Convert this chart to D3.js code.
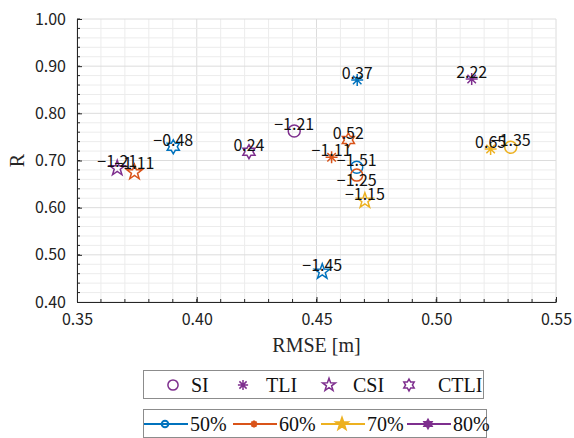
<!DOCTYPE html>
<html>
<head>
<meta charset="utf-8">
<script src="https://cdn.jsdelivr.net/npm/d3@7"></script>
<style>
  body { margin: 0; background: #fff; }
  svg { display: block; }
</style>
</head>
<body>
<svg id="chart" width="574" height="438"></svg>
<script>
// rows: SI, TLI, CSI, CTLI ; columns: 50%, 60%, 70%, 80%
const indices = ["SI", "TLI", "CSI", "CTLI"];
const levels = ["50%", "60%", "70%", "80%"];
const rmseVals = [
    [0.4668, 0.4668, 0.5311, 0.4407],
    [0.4670, 0.4563, 0.5227, 0.5148],
    [0.4524, 0.3740, 0.4702, 0.3668],
    [0.3902, 0.4633, null, 0.4218]
];
const rVals = [
    [0.6856, 0.6690, 0.7280, 0.7625],
    [0.8707, 0.7068, 0.7244, 0.8727],
    [0.4643, 0.6750, 0.6148, 0.6835],
    [0.7290, 0.7435, null, 0.7187]
];
const pointLabels = [
    ["\u22121.51", "\u22121.25", "\u22121.35", "\u22121.21"],
    ["0.37", "\u22121.11", "0.65", "2.22"],
    ["\u22121.45", "\u22121.11", "\u22121.15", "\u22121.21"],
    ["\u22120.48", "0.52", null, "0.24"]
];
// vertical nudge of a few labels (px), as placed in the original figure
const labelNudge = [
    [0, 12, 0, 0],
    [0, 0, 0, 0],
    [0, -2, 0, 0],
    [0, 0, 0, 0]
];
const xTicks = [0.35, 0.40, 0.45, 0.50, 0.55];
const yTicks = [0.40, 0.50, 0.60, 0.70, 0.80, 0.90, 1.00];
const levelColors = ["#0072BD", "#D95319", "#EDB120", "#7E2F8E"];

const svg = d3.select("#chart");
const x = d3.scaleLinear().domain([0.35, 0.55]).range([77, 556]);
const y = d3.scaleLinear().domain([0.40, 1.00]).range([302, 19]);

const tickFont = "'Noto Sans CJK JP', 'Noto Sans', sans-serif";
const serif = "'Liberation Serif', 'DejaVu Serif', serif";

// marker path builders
function starPath(n, rOut, rIn) {
    var pts = [];
    for (var i = 0; i < 2 * n; i++) {
        var a = -Math.PI / 2 + i * Math.PI / n;
        var r = i % 2 === 0 ? rOut : rIn;
        pts.push([r * Math.cos(a), r * Math.sin(a)]);
    }
    return "M" + pts.map(function (p) { return p[0].toFixed(2) + "," + p[1].toFixed(2); }).join("L") + "Z";
}
function asteriskPath(r) {
    var d = "";
    [0, 45, 90, 135].forEach(function (deg) {
        var a = deg * Math.PI / 180;
        d += "M" + (-r * Math.cos(a)).toFixed(2) + "," + (-r * Math.sin(a)).toFixed(2) +
             "L" + (r * Math.cos(a)).toFixed(2) + "," + (r * Math.sin(a)).toFixed(2);
    });
    return d;
}
function circlePath(r) {
    return "M" + r + ",0A" + r + "," + r + " 0 1,1 " + (-r) + ",0A" + r + "," + r + " 0 1,1 " + r + ",0Z";
}
function markerPath(idx, s) {
    if (idx === 0) return circlePath(6 * s);
    if (idx === 1) return asteriskPath(6 * s);
    if (idx === 2) return starPath(5, 8 * s, 3.2 * s);
    return starPath(6, 7 * s, 4 * s);
}

// grid
const grid = svg.append("g");
d3.range(0.35, 0.5501, 0.01).forEach(function (v) {
    var major = Math.abs(Math.round(v * 100) % 5) === 0;
    grid.append("line")
        .attr("x1", x(v)).attr("x2", x(v)).attr("y1", y(0.4)).attr("y2", y(1.0))
        .attr("stroke", major ? "#dcdcdc" : "#ececec").attr("stroke-width", 1);
});
d3.range(0.40, 1.0001, 0.02).forEach(function (v) {
    var major = Math.abs(Math.round(v * 100) % 10) === 0;
    grid.append("line")
        .attr("x1", x(0.35)).attr("x2", x(0.55)).attr("y1", y(v)).attr("y2", y(v))
        .attr("stroke", major ? "#dcdcdc" : "#ececec").attr("stroke-width", 1);
});

// axes
const xAxis = d3.axisBottom(x).tickValues(xTicks).tickFormat(d3.format(".2f"))
    .tickSizeInner(-5).tickSizeOuter(0).tickPadding(12);
const yAxis = d3.axisLeft(y).tickValues(yTicks).tickFormat(d3.format(".2f"))
    .tickSizeInner(-5).tickSizeOuter(0).tickPadding(11);

const gx = svg.append("g").attr("transform", "translate(0," + y(0.4) + ")").call(xAxis);
const gy = svg.append("g").attr("transform", "translate(" + x(0.35) + ",0)").call(yAxis);
[gx, gy].forEach(function (g) {
    g.select(".domain").attr("stroke", "#262626");
    g.selectAll(".tick line").attr("stroke", "#262626");
    g.selectAll(".tick text").attr("fill", "#222")
        .style("font-family", tickFont).style("font-size", "16px");
});

// minor ticks
const minor = svg.append("g").attr("stroke", "#262626");
d3.range(0.36, 0.55, 0.01).forEach(function (v) {
    minor.append("line").attr("x1", x(v)).attr("x2", x(v))
        .attr("y1", y(0.4)).attr("y2", y(0.4) - 3);
});
d3.range(0.42, 1.0, 0.02).forEach(function (v) {
    minor.append("line").attr("x1", x(0.35)).attr("x2", x(0.35) + 3)
        .attr("y1", y(v)).attr("y2", y(v));
});

// axis titles
svg.append("text")
    .attr("x", x(0.45)).attr("y", 352)
    .attr("text-anchor", "middle")
    .style("font-family", serif).style("font-size", "20px").attr("fill", "#262626")
    .text("RMSE [m]");
svg.append("text")
    .attr("transform", "translate(24," + y(0.7) + ") rotate(-90)")
    .attr("text-anchor", "middle")
    .style("font-family", serif).style("font-size", "20px").attr("fill", "#262626")
    .text("R");

// points
const points = [];
indices.forEach(function (name, i) {
    levels.forEach(function (lv, j) {
        if (rmseVals[i][j] == null) return;
        points.push({
            idx: i, lvl: j, rmse: rmseVals[i][j], r: rVals[i][j],
            label: pointLabels[i][j], nudge: labelNudge[i][j]
        });
    });
});

svg.append("g").selectAll("path").data(points).join("path")
    .attr("transform", function (d) { return "translate(" + x(d.rmse) + "," + y(d.r) + ")"; })
    .attr("d", function (d) { return markerPath(d.idx, 1); })
    .attr("fill", "none")
    .attr("stroke", function (d) { return levelColors[d.lvl]; })
    .attr("stroke-width", 1.5)
    .attr("stroke-linejoin", "miter");

svg.append("g").selectAll("text").data(points).join("text")
    .attr("x", function (d) { return x(d.rmse); })
    .attr("y", function (d) { return y(d.r) - 1 + d.nudge; })
    .attr("text-anchor", "middle")
    .style("font-family", tickFont).style("font-size", "16px")
    .attr("fill", "#111")
    .text(function (d) { return d.label; });

// legend 1 : marker types
const leg1 = svg.append("g");
leg1.append("rect").attr("x", 143.5).attr("y", 370.5).attr("width", 340).attr("height", 28)
    .attr("fill", "#fff").attr("stroke", "#8c8c8c").attr("stroke-width", 1);
const leg1Mark = [173, 243, 329, 409];
const leg1Text = [191, 266, 353, 438];
indices.forEach(function (name, i) {
    leg1.append("path")
        .attr("transform", "translate(" + leg1Mark[i] + ",385)")
        .attr("d", markerPath(i, 0.85))
        .attr("fill", "none").attr("stroke", "#7E2F8E").attr("stroke-width", 1.5);
    leg1.append("text").attr("x", leg1Text[i]).attr("y", 385).attr("dy", "0.35em")
        .style("font-family", serif).style("font-size", "20px").attr("fill", "#111")
        .text(name);
});

// legend 2 : levels
const leg2 = svg.append("g");
leg2.append("rect").attr("x", 143.5).attr("y", 409.5).attr("width", 343).attr("height", 28)
    .attr("fill", "#fff").attr("stroke", "#8c8c8c").attr("stroke-width", 1);
const leg2Start = [144, 233, 321, 407];
levels.forEach(function (lv, j) {
    var x0 = leg2Start[j];
    leg2.append("line").attr("x1", x0).attr("x2", x0 + 44).attr("y1", 424).attr("y2", 424)
        .attr("stroke", levelColors[j]).attr("stroke-width", 2);
    var s = [0.55, 0.6, 0.75, 0.6][j];
    leg2.append("path")
        .attr("transform", "translate(" + (x0 + 21) + ",424)")
        .attr("d", markerPath(j, s))
        .attr("fill", j >= 2 ? levelColors[j] : "none")
        .attr("stroke", levelColors[j]).attr("stroke-width", 2);
    leg2.append("text").attr("x", x0 + 46).attr("y", 424).attr("dy", "0.35em")
        .style("font-family", serif).style("font-size", "20px").attr("fill", "#111")
        .text(lv);
});
</script>
</body>
</html>
